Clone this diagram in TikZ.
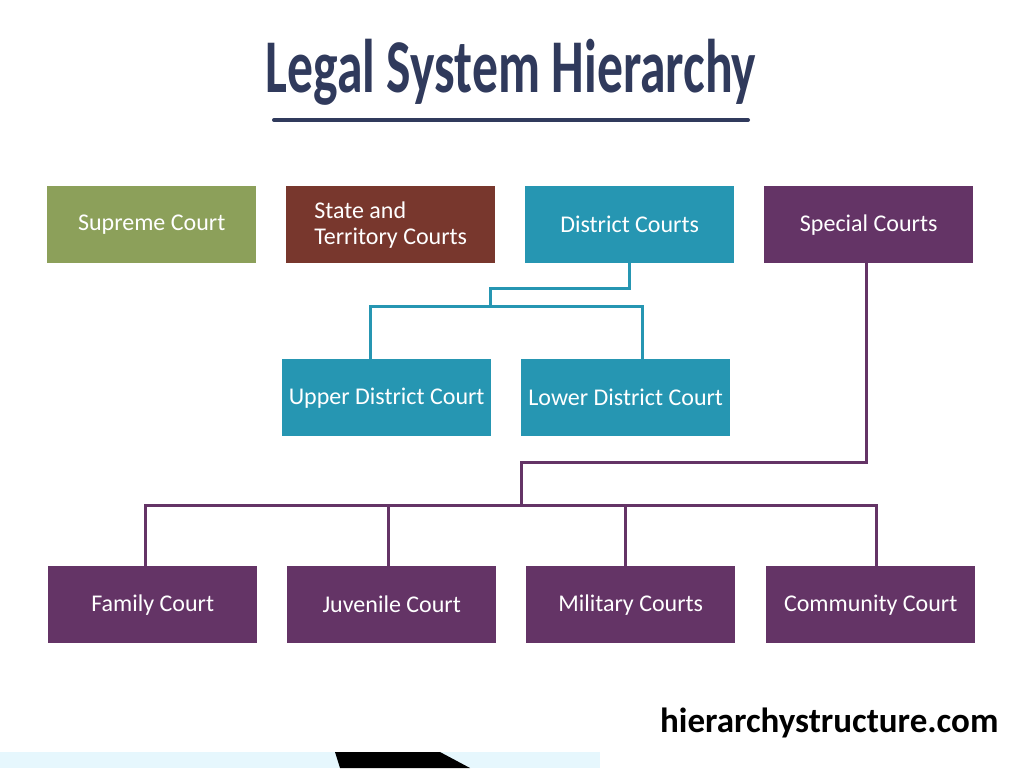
\documentclass[tikz,border=0pt]{standalone}
\usepackage{fontspec}
\setmainfont{Carlito}
\usetikzlibrary{positioning}
\definecolor{supremegreen}{RGB}{140,160,90}
\definecolor{statebrown}{RGB}{120,55,45}
\definecolor{districtteal}{RGB}{38,150,178}
\definecolor{specialpurple}{RGB}{100,52,102}
\definecolor{titlenavy}{RGB}{48,58,92}
\tikzset{
    court/.style={minimum width=209pt, minimum height=77pt, inner sep=2pt, text=white, align=left, font=\fontsize{24}{26}\selectfont}, % box style
    tealline/.style={districtteal, line width=3pt},
    purpleline/.style={specialpurple, line width=3pt}
}
\begin{document}
\begin{tikzpicture}[x=1pt, y=-1pt]
    \useasboundingbox (0,0) rectangle (1024,768);
    \fill[white] (0,0) rectangle (1024,768);

    \node[text=titlenavy, font=\bfseries\fontsize{76}{76}\selectfont, xscale=0.68] (title) at (511,72) {Legal System Hierarchy};
    \draw[titlenavy, line width=4pt, line cap=round] (274,120) -- (748,120);

    \node[court, fill=supremegreen, anchor=north west] (supreme) at (47,186) {Supreme Court};
    \node[court, fill=statebrown, anchor=north west] (state) at (286,186) {State and\\Territory Courts};
    \node[court, fill=districtteal, anchor=north west] (district) at (525,186) {District Courts};
    \node[court, fill=specialpurple, anchor=north west] (special) at (764,186) {Special Courts};

    \node[court, fill=districtteal, anchor=north west] (upper) at (282,359) {Upper District Court};
    \node[court, fill=districtteal, anchor=north west] (lower) at (521,359) {Lower District Court};

    \node[court, fill=specialpurple, anchor=north west] (family) at (48,566) {Family Court};
    \node[court, fill=specialpurple, anchor=north west] (juvenile) at (287,566) {Juvenile Court};
    \node[court, fill=specialpurple, anchor=north west] (military) at (526,566) {Military Courts};
    \node[court, fill=specialpurple, anchor=north west] (community) at (766,566) {Community Court};

    \coordinate (dsplit) at (490,306);
    \coordinate (ssplit) at (521,505);
    \draw[tealline] (district.south) |- (490,288) -- (dsplit);
    \draw[tealline] (dsplit) -| (upper.north -| 370,0);
    \draw[tealline] (dsplit) -| (lower.north -| 642,0);
    \draw[purpleline] (special.south -| 866,0) |- (521,462) -- (ssplit);
    \draw[purpleline] (ssplit) -| (family.north -| 145,0);
    \draw[purpleline] (ssplit) -| (juvenile.north -| 388,0);
    \draw[purpleline] (ssplit) -| (military.north -| 625,0);
    \draw[purpleline] (ssplit) -| (community.north -| 876,0);

    \node[font=\bfseries\fontsize{35}{35}\selectfont, anchor=east] (site) at (1002,723) {hierarchystructure.com};

    % bottom strip
    \fill[cyan!10] (0,752) rectangle (600,768);
    \fill[black] (335,752) -- (440,752) -- (470,768) -- (340,768) -- cycle;
\end{tikzpicture}
\end{document}
